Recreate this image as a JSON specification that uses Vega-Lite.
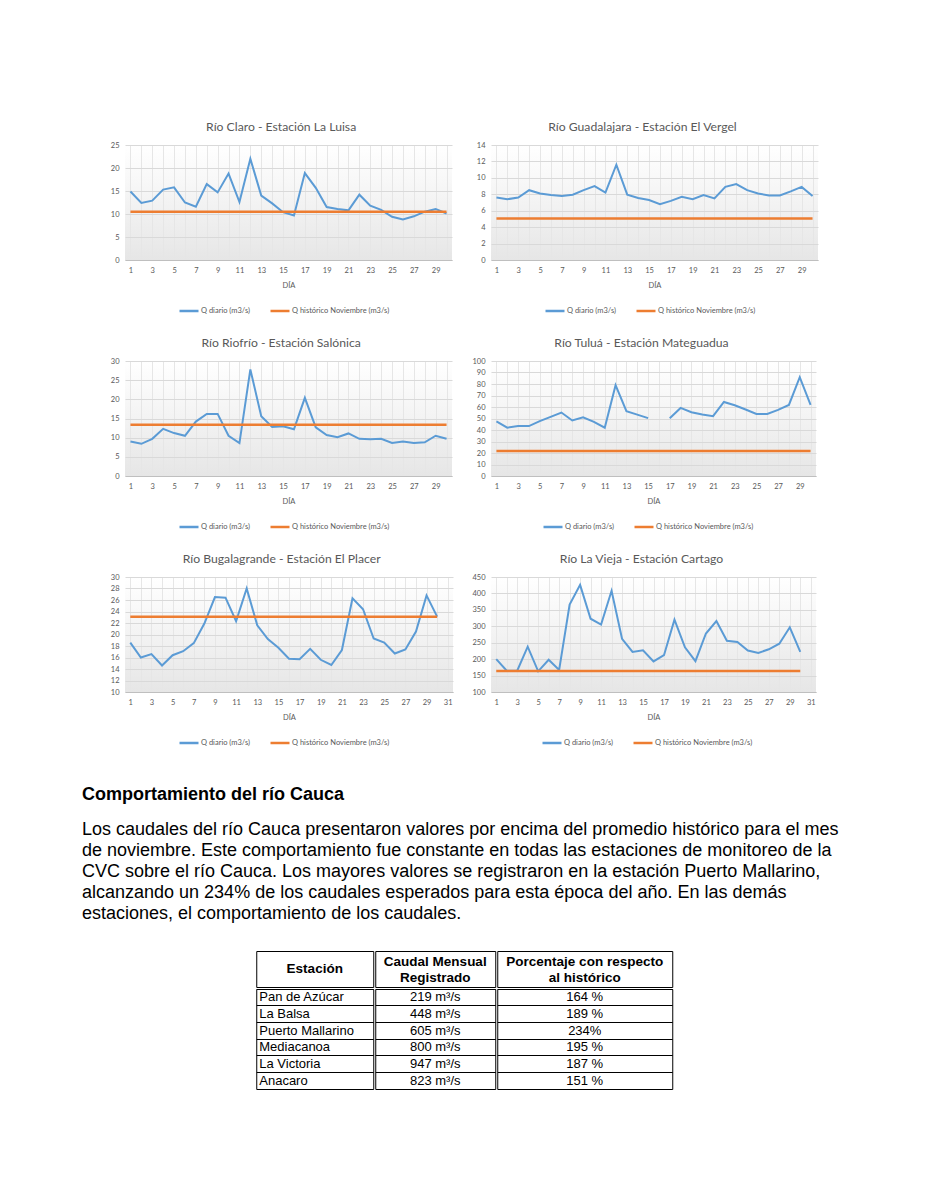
{
  "$schema": "https://vega.github.io/schema/vega-lite/v6.json",
  "background": "white",
  "padding": {"left": 82, "top": 120, "right": 5, "bottom": 5},
  "datasets": {
    "claro": [
      {"dia":1,"q":14.9,"hist":10.5},{"dia":2,"q":12.4,"hist":10.5},{"dia":3,"q":12.9,"hist":10.5},{"dia":4,"q":15.3,"hist":10.5},{"dia":5,"q":15.8,"hist":10.5},{"dia":6,"q":12.5,"hist":10.5},{"dia":7,"q":11.6,"hist":10.5},{"dia":8,"q":16.5,"hist":10.5},{"dia":9,"q":14.7,"hist":10.5},{"dia":10,"q":18.8,"hist":10.5},{"dia":11,"q":12.6,"hist":10.5},{"dia":12,"q":22.0,"hist":10.5},{"dia":13,"q":14.0,"hist":10.5},{"dia":14,"q":12.3,"hist":10.5},{"dia":15,"q":10.4,"hist":10.5},{"dia":16,"q":9.7,"hist":10.5},{"dia":17,"q":18.9,"hist":10.5},{"dia":18,"q":15.7,"hist":10.5},{"dia":19,"q":11.5,"hist":10.5},{"dia":20,"q":11.1,"hist":10.5},{"dia":21,"q":10.8,"hist":10.5},{"dia":22,"q":14.2,"hist":10.5},{"dia":23,"q":11.8,"hist":10.5},{"dia":24,"q":10.9,"hist":10.5},{"dia":25,"q":9.4,"hist":10.5},{"dia":26,"q":8.8,"hist":10.5},{"dia":27,"q":9.5,"hist":10.5},{"dia":28,"q":10.5,"hist":10.5},{"dia":29,"q":11.1,"hist":10.5},{"dia":30,"q":10.1,"hist":10.5}
    ],
    "guadalajara": [
      {"dia":1,"q":7.6,"hist":5.05},{"dia":2,"q":7.4,"hist":5.05},{"dia":3,"q":7.6,"hist":5.05},{"dia":4,"q":8.5,"hist":5.05},{"dia":5,"q":8.1,"hist":5.05},{"dia":6,"q":7.9,"hist":5.05},{"dia":7,"q":7.8,"hist":5.05},{"dia":8,"q":7.95,"hist":5.05},{"dia":9,"q":8.5,"hist":5.05},{"dia":10,"q":9.0,"hist":5.05},{"dia":11,"q":8.2,"hist":5.05},{"dia":12,"q":11.6,"hist":5.05},{"dia":13,"q":7.95,"hist":5.05},{"dia":14,"q":7.55,"hist":5.05},{"dia":15,"q":7.3,"hist":5.05},{"dia":16,"q":6.8,"hist":5.05},{"dia":17,"q":7.2,"hist":5.05},{"dia":18,"q":7.7,"hist":5.05},{"dia":19,"q":7.4,"hist":5.05},{"dia":20,"q":7.9,"hist":5.05},{"dia":21,"q":7.5,"hist":5.05},{"dia":22,"q":8.9,"hist":5.05},{"dia":23,"q":9.25,"hist":5.05},{"dia":24,"q":8.5,"hist":5.05},{"dia":25,"q":8.1,"hist":5.05},{"dia":26,"q":7.85,"hist":5.05},{"dia":27,"q":7.85,"hist":5.05},{"dia":28,"q":8.35,"hist":5.05},{"dia":29,"q":8.9,"hist":5.05},{"dia":30,"q":7.8,"hist":5.05}
    ],
    "riofrio": [
      {"dia":1,"q":9.0,"hist":13.4},{"dia":2,"q":8.4,"hist":13.4},{"dia":3,"q":9.7,"hist":13.4},{"dia":4,"q":12.3,"hist":13.4},{"dia":5,"q":11.2,"hist":13.4},{"dia":6,"q":10.5,"hist":13.4},{"dia":7,"q":14.2,"hist":13.4},{"dia":8,"q":16.2,"hist":13.4},{"dia":9,"q":16.2,"hist":13.4},{"dia":10,"q":10.5,"hist":13.4},{"dia":11,"q":8.6,"hist":13.4},{"dia":12,"q":27.8,"hist":13.4},{"dia":13,"q":15.6,"hist":13.4},{"dia":14,"q":12.8,"hist":13.4},{"dia":15,"q":13.0,"hist":13.4},{"dia":16,"q":12.2,"hist":13.4},{"dia":17,"q":20.4,"hist":13.4},{"dia":18,"q":12.7,"hist":13.4},{"dia":19,"q":10.7,"hist":13.4},{"dia":20,"q":10.1,"hist":13.4},{"dia":21,"q":11.1,"hist":13.4},{"dia":22,"q":9.7,"hist":13.4},{"dia":23,"q":9.6,"hist":13.4},{"dia":24,"q":9.7,"hist":13.4},{"dia":25,"q":8.6,"hist":13.4},{"dia":26,"q":9.0,"hist":13.4},{"dia":27,"q":8.6,"hist":13.4},{"dia":28,"q":8.8,"hist":13.4},{"dia":29,"q":10.5,"hist":13.4},{"dia":30,"q":9.7,"hist":13.4}
    ],
    "tulua": [
      {"dia":1,"q":47.4,"hist":21.8},{"dia":2,"q":42,"hist":21.8},{"dia":3,"q":43.4,"hist":21.8},{"dia":4,"q":43.4,"hist":21.8},{"dia":5,"q":47.7,"hist":21.8},{"dia":6,"q":51.4,"hist":21.8},{"dia":7,"q":55.2,"hist":21.8},{"dia":8,"q":48.3,"hist":21.8},{"dia":9,"q":51.1,"hist":21.8},{"dia":10,"q":47.1,"hist":21.8},{"dia":11,"q":42,"hist":21.8},{"dia":12,"q":79,"hist":21.8},{"dia":13,"q":56.3,"hist":21.8},{"dia":14,"q":53.4,"hist":21.8},{"dia":15,"q":50.3,"hist":21.8},{"dia":16,"q":null,"hist":21.8},{"dia":17,"q":50.3,"hist":21.8},{"dia":18,"q":59.2,"hist":21.8},{"dia":19,"q":55.5,"hist":21.8},{"dia":20,"q":53.4,"hist":21.8},{"dia":21,"q":52,"hist":21.8},{"dia":22,"q":64.4,"hist":21.8},{"dia":23,"q":61.5,"hist":21.8},{"dia":24,"q":57.8,"hist":21.8},{"dia":25,"q":54,"hist":21.8},{"dia":26,"q":54,"hist":21.8},{"dia":27,"q":57.5,"hist":21.8},{"dia":28,"q":61.8,"hist":21.8},{"dia":29,"q":85.9,"hist":21.8},{"dia":30,"q":61.8,"hist":21.8}
    ],
    "bugalagrande": [
      {"dia":1,"q":18.6,"hist":23.1},{"dia":2,"q":16.0,"hist":23.1},{"dia":3,"q":16.6,"hist":23.1},{"dia":4,"q":14.6,"hist":23.1},{"dia":5,"q":16.4,"hist":23.1},{"dia":6,"q":17.1,"hist":23.1},{"dia":7,"q":18.5,"hist":23.1},{"dia":8,"q":21.9,"hist":23.1},{"dia":9,"q":26.5,"hist":23.1},{"dia":10,"q":26.4,"hist":23.1},{"dia":11,"q":22.3,"hist":23.1},{"dia":12,"q":28.0,"hist":23.1},{"dia":13,"q":21.6,"hist":23.1},{"dia":14,"q":19.2,"hist":23.1},{"dia":15,"q":17.7,"hist":23.1},{"dia":16,"q":15.8,"hist":23.1},{"dia":17,"q":15.7,"hist":23.1},{"dia":18,"q":17.5,"hist":23.1},{"dia":19,"q":15.6,"hist":23.1},{"dia":20,"q":14.7,"hist":23.1},{"dia":21,"q":17.3,"hist":23.1},{"dia":22,"q":26.3,"hist":23.1},{"dia":23,"q":24.4,"hist":23.1},{"dia":24,"q":19.3,"hist":23.1},{"dia":25,"q":18.6,"hist":23.1},{"dia":26,"q":16.7,"hist":23.1},{"dia":27,"q":17.4,"hist":23.1},{"dia":28,"q":20.5,"hist":23.1},{"dia":29,"q":26.8,"hist":23.1},{"dia":30,"q":23.1,"hist":23.1}
    ],
    "vieja": [
      {"dia":1,"q":200,"hist":164},{"dia":2,"q":165,"hist":164},{"dia":3,"q":165,"hist":164},{"dia":4,"q":238,"hist":164},{"dia":5,"q":163,"hist":164},{"dia":6,"q":198,"hist":164},{"dia":7,"q":167,"hist":164},{"dia":8,"q":366,"hist":164},{"dia":9,"q":426,"hist":164},{"dia":10,"q":323,"hist":164},{"dia":11,"q":305,"hist":164},{"dia":12,"q":408,"hist":164},{"dia":13,"q":262,"hist":164},{"dia":14,"q":222,"hist":164},{"dia":15,"q":227,"hist":164},{"dia":16,"q":193,"hist":164},{"dia":17,"q":212,"hist":164},{"dia":18,"q":320,"hist":164},{"dia":19,"q":236,"hist":164},{"dia":20,"q":194,"hist":164},{"dia":21,"q":278,"hist":164},{"dia":22,"q":316,"hist":164},{"dia":23,"q":256,"hist":164},{"dia":24,"q":252,"hist":164},{"dia":25,"q":226,"hist":164},{"dia":26,"q":219,"hist":164},{"dia":27,"q":230,"hist":164},{"dia":28,"q":247,"hist":164},{"dia":29,"q":297,"hist":164},{"dia":30,"q":222,"hist":164}
    ],
    "tabla": [
      {"estacion": "Pan de Azúcar", "caudal": "219 m³/s", "porcentaje": "164 %"},
      {"estacion": "La Balsa", "caudal": "448 m³/s", "porcentaje": "189 %"},
      {"estacion": "Puerto Mallarino", "caudal": "605 m³/s", "porcentaje": "234%"},
      {"estacion": "Mediacanoa", "caudal": "800 m³/s", "porcentaje": "195 %"},
      {"estacion": "La Victoria", "caudal": "947 m³/s", "porcentaje": "187 %"},
      {"estacion": "Anacaro", "caudal": "823 m³/s", "porcentaje": "151 %"}
    ]
  },
  "resolve": {"scale": {"color": "independent"}, "legend": {"color": "independent"}},
  "spacing": 38,
  "vconcat": [
    {
      "resolve": {"scale": {"color": "independent"}, "legend": {"color": "independent"}},
      "spacing": 14,
      "hconcat": [
        {"width": 14, "height": 10, "view": {"fill": null, "stroke": null}, "data": {"values": []}, "mark": "point"},
        {
          "resolve": {"scale": {"color": "independent"}, "legend": {"color": "independent"}},
          "spacing": 20,
          "vconcat": [
            {
              "width": 327, "height": 115,
              "title": {"text": "Río Claro - Estación La Luisa"},
              "data": {"name": "claro"},
              "encoding": {"x": {"field": "dia", "type": "quantitative", "scale": {"domain": [0.5, 30.5], "nice": false, "zero": false}, "axis": {"title": "DÍA", "values": [1,2,3,4,5,6,7,8,9,10,11,12,13,14,15,16,17,18,19,20,21,22,23,24,25,26,27,28,29,30], "labelExpr": "datum.value % 2 === 1 ? datum.label : ''"}}},
              "layer": [
                {"mark": {"type": "line", "strokeWidth": 2},
                 "encoding": {"y": {"field": "q", "type": "quantitative", "scale": {"domain": [0, 25], "nice": false, "zero": false}, "axis": {"title": null, "values": [0,5,10,15,20,25], "labelOverlap": false, "minExtent": 14, "maxExtent": 14}},
                  "color": {"datum": "Q diario (m3/s)", "type": "nominal", "scale": {"domain": ["Q diario (m3/s)", "Q histórico Noviembre (m3/s)"], "range": ["#5b9bd5", "#ed7d31"]}, "legend": {"orient": "none", "legendX": 53, "legendY": 155, "direction": "horizontal", "title": null}}}},
                {"mark": {"type": "line", "strokeWidth": 2.5},
                 "encoding": {"y": {"field": "hist", "type": "quantitative", "axis": {"title": null, "values": [0,5,10,15,20,25], "labelOverlap": false, "minExtent": 14, "maxExtent": 14}}, "color": {"datum": "Q histórico Noviembre (m3/s)", "type": "nominal"}}}
              ]
            },
            {
              "width": 327, "height": 115,
              "title": {"text": "Río Riofrío - Estación Salónica"},
              "data": {"name": "riofrio"},
              "encoding": {"x": {"field": "dia", "type": "quantitative", "scale": {"domain": [0.5, 30.5], "nice": false, "zero": false}, "axis": {"title": "DÍA", "values": [1,2,3,4,5,6,7,8,9,10,11,12,13,14,15,16,17,18,19,20,21,22,23,24,25,26,27,28,29,30], "labelExpr": "datum.value % 2 === 1 ? datum.label : ''"}}},
              "layer": [
                {"mark": {"type": "line", "strokeWidth": 2},
                 "encoding": {"y": {"field": "q", "type": "quantitative", "scale": {"domain": [0, 30], "nice": false, "zero": false}, "axis": {"title": null, "values": [0,5,10,15,20,25,30], "labelOverlap": false, "minExtent": 14, "maxExtent": 14}},
                  "color": {"datum": "Q diario (m3/s)", "type": "nominal", "scale": {"domain": ["Q diario (m3/s)", "Q histórico Noviembre (m3/s)"], "range": ["#5b9bd5", "#ed7d31"]}, "legend": {"orient": "none", "legendX": 53, "legendY": 155, "direction": "horizontal", "title": null}}}},
                {"mark": {"type": "line", "strokeWidth": 2.5},
                 "encoding": {"y": {"field": "hist", "type": "quantitative", "axis": {"title": null, "values": [0,5,10,15,20,25,30], "labelOverlap": false, "minExtent": 14, "maxExtent": 14}}, "color": {"datum": "Q histórico Noviembre (m3/s)", "type": "nominal"}}}
              ]
            },
            {
              "width": 328, "height": 115,
              "title": {"text": "Río Bugalagrande - Estación El Placer"},
              "data": {"name": "bugalagrande"},
              "encoding": {"x": {"field": "dia", "type": "quantitative", "scale": {"domain": [0.5, 31.5], "nice": false, "zero": false}, "axis": {"title": "DÍA", "values": [1,2,3,4,5,6,7,8,9,10,11,12,13,14,15,16,17,18,19,20,21,22,23,24,25,26,27,28,29,30,31], "labelExpr": "datum.value % 2 === 1 ? datum.label : ''"}}},
              "layer": [
                {"mark": {"type": "line", "strokeWidth": 2},
                 "encoding": {"y": {"field": "q", "type": "quantitative", "scale": {"domain": [10, 30], "nice": false, "zero": false}, "axis": {"title": null, "values": [10,12,14,16,18,20,22,24,26,28,30], "labelOverlap": false, "minExtent": 14, "maxExtent": 14}},
                  "color": {"datum": "Q diario (m3/s)", "type": "nominal", "scale": {"domain": ["Q diario (m3/s)", "Q histórico Noviembre (m3/s)"], "range": ["#5b9bd5", "#ed7d31"]}, "legend": {"orient": "none", "legendX": 53, "legendY": 155, "direction": "horizontal", "title": null}}}},
                {"mark": {"type": "line", "strokeWidth": 2.5},
                 "encoding": {"y": {"field": "hist", "type": "quantitative", "axis": {"title": null, "values": [10,12,14,16,18,20,22,24,26,28,30], "labelOverlap": false, "minExtent": 14, "maxExtent": 14}}, "color": {"datum": "Q histórico Noviembre (m3/s)", "type": "nominal"}}}
              ]
            }
          ]
        },
        {
          "resolve": {"scale": {"color": "independent"}, "legend": {"color": "independent"}},
          "spacing": 20,
          "vconcat": [
            {
              "width": 327, "height": 115,
              "title": {"text": "Río Guadalajara - Estación El Vergel"},
              "data": {"name": "guadalajara"},
              "encoding": {"x": {"field": "dia", "type": "quantitative", "scale": {"domain": [0.5, 30.5], "nice": false, "zero": false}, "axis": {"title": "DÍA", "values": [1,2,3,4,5,6,7,8,9,10,11,12,13,14,15,16,17,18,19,20,21,22,23,24,25,26,27,28,29,30], "labelExpr": "datum.value % 2 === 1 ? datum.label : ''"}}},
              "layer": [
                {"mark": {"type": "line", "strokeWidth": 2},
                 "encoding": {"y": {"field": "q", "type": "quantitative", "scale": {"domain": [0, 14], "nice": false, "zero": false}, "axis": {"title": null, "values": [0,2,4,6,8,10,12,14], "labelOverlap": false, "minExtent": 24, "maxExtent": 24}},
                  "color": {"datum": "Q diario (m3/s)", "type": "nominal", "scale": {"domain": ["Q diario (m3/s)", "Q histórico Noviembre (m3/s)"], "range": ["#5b9bd5", "#ed7d31"]}, "legend": {"orient": "none", "legendX": 53, "legendY": 155, "direction": "horizontal", "title": null}}}},
                {"mark": {"type": "line", "strokeWidth": 2.5},
                 "encoding": {"y": {"field": "hist", "type": "quantitative", "axis": {"title": null, "values": [0,2,4,6,8,10,12,14], "labelOverlap": false, "minExtent": 24, "maxExtent": 24}}, "color": {"datum": "Q histórico Noviembre (m3/s)", "type": "nominal"}}}
              ]
            },
            {
              "width": 325, "height": 115,
              "title": {"text": "Río Tuluá - Estación Mateguadua"},
              "data": {"name": "tulua"},
              "encoding": {"x": {"field": "dia", "type": "quantitative", "scale": {"domain": [0.5, 30.5], "nice": false, "zero": false}, "axis": {"title": "DÍA", "values": [1,2,3,4,5,6,7,8,9,10,11,12,13,14,15,16,17,18,19,20,21,22,23,24,25,26,27,28,29,30], "labelExpr": "datum.value % 2 === 1 ? datum.label : ''"}}},
              "layer": [
                {"mark": {"type": "line", "strokeWidth": 2, "invalid": "break-paths-show-domains"},
                 "encoding": {"y": {"field": "q", "type": "quantitative", "scale": {"domain": [0, 100], "nice": false, "zero": false}, "axis": {"title": null, "values": [0,10,20,30,40,50,60,70,80,90,100], "labelOverlap": false, "minExtent": 24, "maxExtent": 24}},
                  "color": {"datum": "Q diario (m3/s)", "type": "nominal", "scale": {"domain": ["Q diario (m3/s)", "Q histórico Noviembre (m3/s)"], "range": ["#5b9bd5", "#ed7d31"]}, "legend": {"orient": "none", "legendX": 51, "legendY": 155, "direction": "horizontal", "title": null}}}},
                {"mark": {"type": "line", "strokeWidth": 2.5},
                 "encoding": {"y": {"field": "hist", "type": "quantitative", "axis": {"title": null, "values": [0,10,20,30,40,50,60,70,80,90,100], "labelOverlap": false, "minExtent": 24, "maxExtent": 24}}, "color": {"datum": "Q histórico Noviembre (m3/s)", "type": "nominal"}}}
              ]
            },
            {
              "width": 325, "height": 115,
              "title": {"text": "Río La Vieja - Estación Cartago"},
              "data": {"name": "vieja"},
              "encoding": {"x": {"field": "dia", "type": "quantitative", "scale": {"domain": [0.5, 31.5], "nice": false, "zero": false}, "axis": {"title": "DÍA", "values": [1,2,3,4,5,6,7,8,9,10,11,12,13,14,15,16,17,18,19,20,21,22,23,24,25,26,27,28,29,30,31], "labelExpr": "datum.value % 2 === 1 ? datum.label : ''"}}},
              "layer": [
                {"mark": {"type": "line", "strokeWidth": 2},
                 "encoding": {"y": {"field": "q", "type": "quantitative", "scale": {"domain": [100, 450], "nice": false, "zero": false}, "axis": {"title": null, "values": [100,150,200,250,300,350,400,450], "labelOverlap": false, "minExtent": 24, "maxExtent": 24}},
                  "color": {"datum": "Q diario (m3/s)", "type": "nominal", "scale": {"domain": ["Q diario (m3/s)", "Q histórico Noviembre (m3/s)"], "range": ["#5b9bd5", "#ed7d31"]}, "legend": {"orient": "none", "legendX": 50, "legendY": 155, "direction": "horizontal", "title": null}}}},
                {"mark": {"type": "line", "strokeWidth": 2.5},
                 "encoding": {"y": {"field": "hist", "type": "quantitative", "axis": {"title": null, "values": [100,150,200,250,300,350,400,450], "labelOverlap": false, "minExtent": 24, "maxExtent": 24}}, "color": {"datum": "Q histórico Noviembre (m3/s)", "type": "nominal"}}}
              ]
            }
          ]
        }
      ]
    },
    {
      "center": true,
      "spacing": 26,
      "vconcat": [
        {
          "width": 765, "height": 105,
          "view": {"fill": null, "stroke": null},
          "title": {"text": "Comportamiento del río Cauca", "anchor": "start", "frame": "group", "font": "Liberation Sans", "fontSize": 18, "fontWeight": "bold", "color": "#000000", "offset": 15},
          "data": {"values": [
            {"linea": 1, "texto": "Los caudales del río Cauca presentaron valores por encima del promedio histórico para el mes"},
            {"linea": 2, "texto": "de noviembre. Este comportamiento fue constante en todas las estaciones de monitoreo de la"},
            {"linea": 3, "texto": "CVC sobre el río Cauca. Los mayores valores se registraron en la estación Puerto Mallarino,"},
            {"linea": 4, "texto": "alcanzando un 234% de los caudales esperados para esta época del año. En las demás"},
            {"linea": 5, "texto": "estaciones, el comportamiento de los caudales."}
          ]},
          "mark": {"type": "text", "align": "left", "baseline": "middle", "font": "Liberation Sans", "fontSize": 18, "color": "#000000"},
          "encoding": {
            "x": {"datum": "p", "type": "nominal", "scale": {"type": "point", "padding": 0, "align": 0}, "axis": null},
            "y": {"field": "linea", "type": "ordinal", "scale": {"type": "band", "paddingInner": 0, "paddingOuter": 0}, "axis": null},
            "text": {"field": "texto"}
          }
        },
        {
          "spacing": 0,
          "vconcat": [
            {
              "spacing": 0,
              "hconcat": [
                {"width": 117, "height": 36, "view": {"fill": null, "stroke": "#000000"},
                 "data": {"values": [{"h": "Estación"}]},
                 "mark": {"type": "text", "align": "center", "baseline": "middle", "font": "Liberation Sans", "fontSize": 13.5, "fontWeight": "bold", "color": "#000000"},
                 "encoding": {"text": {"field": "h"}}},
                {"width": 120, "height": 36, "view": {"fill": null, "stroke": "#000000"},
                 "data": {"values": [{"h": "Caudal Mensual\nRegistrado"}]},
                 "mark": {"type": "text", "align": "center", "baseline": "middle", "dy": -7, "font": "Liberation Sans", "fontSize": 13.5, "fontWeight": "bold", "color": "#000000", "lineBreak": "\n", "lineHeight": 16},
                 "encoding": {"text": {"field": "h"}}},
                {"width": 175, "height": 36, "view": {"fill": null, "stroke": "#000000"},
                 "data": {"values": [{"h": "Porcentaje con respecto\nal histórico"}]},
                 "mark": {"type": "text", "align": "center", "baseline": "middle", "dy": -7, "font": "Liberation Sans", "fontSize": 13.5, "fontWeight": "bold", "color": "#000000", "lineBreak": "\n", "lineHeight": 16},
                 "encoding": {"text": {"field": "h"}}}
              ]
            },
            {
              "spacing": 0,
              "hconcat": [
                {"width": 117, "height": 100, "view": {"fill": null, "stroke": "#000000"},
                 "data": {"name": "tabla"},
                 "mark": {"type": "text", "align": "left", "dx": 3, "baseline": "middle", "font": "Liberation Sans", "fontSize": 13, "color": "#000000"},
                 "encoding": {
                   "x": {"datum": "c", "type": "nominal", "scale": {"type": "point", "padding": 0, "align": 0}, "axis": null},
                   "y": {"field": "estacion", "type": "nominal", "sort": null, "scale": {"type": "band", "paddingInner": 0, "paddingOuter": 0}, "axis": {"bandPosition": 0, "grid": true, "gridColor": "#000000", "labels": false, "ticks": false, "domain": false, "title": null, "minExtent": 0, "maxExtent": 0}},
                   "text": {"field": "estacion"}}},
                {"width": 120, "height": 100, "view": {"fill": null, "stroke": "#000000"},
                 "data": {"name": "tabla"},
                 "mark": {"type": "text", "align": "center", "baseline": "middle", "font": "Liberation Sans", "fontSize": 13, "color": "#000000"},
                 "encoding": {
                   "y": {"field": "estacion", "type": "nominal", "sort": null, "scale": {"type": "band", "paddingInner": 0, "paddingOuter": 0}, "axis": {"bandPosition": 0, "grid": true, "gridColor": "#000000", "labels": false, "ticks": false, "domain": false, "title": null, "minExtent": 0, "maxExtent": 0}},
                   "text": {"field": "caudal"}}},
                {"width": 175, "height": 100, "view": {"fill": null, "stroke": "#000000"},
                 "data": {"name": "tabla"},
                 "mark": {"type": "text", "align": "center", "baseline": "middle", "font": "Liberation Sans", "fontSize": 13, "color": "#000000"},
                 "encoding": {
                   "y": {"field": "estacion", "type": "nominal", "sort": null, "scale": {"type": "band", "paddingInner": 0, "paddingOuter": 0}, "axis": {"bandPosition": 0, "grid": true, "gridColor": "#000000", "labels": false, "ticks": false, "domain": false, "title": null, "minExtent": 0, "maxExtent": 0}},
                   "text": {"field": "porcentaje"}}}
              ]
            }
          ]
        }
      ]
    }
  ],
  "config": {
    "font": "Lato",
    "view": {"stroke": null, "fill": {"gradient": "linear", "x1": 0, "y1": 0, "x2": 0, "y2": 1, "stops": [{"offset": 0, "color": "#ffffff"}, {"offset": 0.3, "color": "#f8f8f8"}, {"offset": 1, "color": "#e6e6e6"}]}},
    "title": {"font": "Lato", "fontSize": 12.2, "fontWeight": "normal", "color": "#595959", "offset": 8, "frame": "bounds"},
    "axis": {"labelFont": "Lato", "labelFontSize": 7.5, "labelColor": "#595959", "labelOverlap": false, "titleFont": "Lato", "titleFontSize": 7.5, "titleFontWeight": "normal", "titleColor": "#595959", "ticks": false, "domain": false, "gridColor": "#d9d9d9", "gridWidth": 1},
    "axisX": {"domain": true, "domainColor": "#bfbfbf", "gridColor": "#e6e6e6", "labelPadding": 6, "titlePadding": 8, "labelAngle": 0},
    "axisY": {"labelPadding": 6},
    "legend": {"symbolType": "stroke", "symbolSize": 361, "symbolStrokeWidth": 2.5, "labelFont": "Lato", "labelFontSize": 7.5, "labelColor": "#595959", "columnPadding": 14, "labelOffset": 1}
  }
}
